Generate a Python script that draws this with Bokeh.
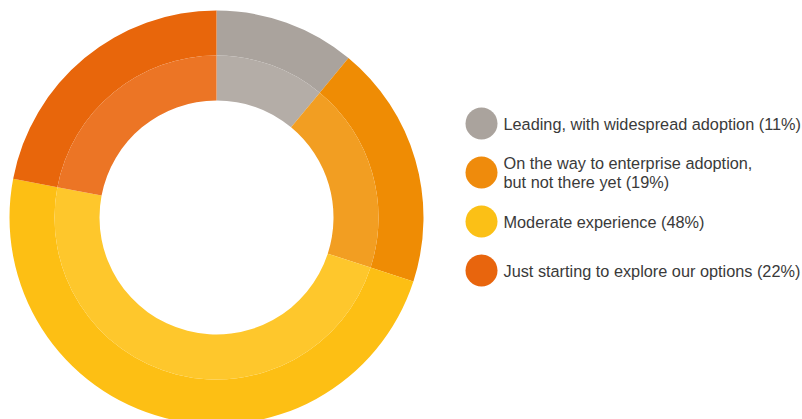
import math
from bokeh.plotting import figure
from bokeh.models import Range1d, ColumnDataSource
from bokeh.embed import file_html
from bokeh.resources import INLINE
from bokeh.core.properties import value

# ---- data ----
categories = [
    "Leading, with widespread adoption",
    "On the way to enterprise adoption,\nbut not there yet",
    "Moderate experience",
    "Just starting to explore our options",
]
shares = [11, 19, 48, 22]

# ---- styles ----
outer_colors = ["#aaa39d", "#ef8c04", "#fdbf14", "#e8660b"]
inner_colors = ["#b4ada7", "#f29e22", "#fec72c", "#ec7525"]
legend_colors = ["#aaa39d", "#ef8b0c", "#fbc016", "#e8650d"]

W, H = 802, 419
cx, cy = 216, H - 217
R_out, R_mid, R_in = 207, 162, 117

total = float(sum(shares))
starts, ends = [], []
cum = 0.0
for s in shares:
    a0 = math.pi / 2 - 2 * math.pi * cum / total
    cum += s
    a1 = math.pi / 2 - 2 * math.pi * cum / total
    starts.append(a1)
    ends.append(a0)

src = ColumnDataSource(dict(
    start=starts, end=ends, outer=outer_colors, inner=inner_colors,
    x=[cx] * len(shares), y=[cy] * len(shares),
))

p = figure(width=W, height=H, x_range=Range1d(0, W), y_range=Range1d(0, H),
           output_backend="svg", toolbar_location=None, min_border=0)
p.axis.visible = False
p.grid.visible = False
p.outline_line_color = None
p.background_fill_color = "white"
p.border_fill_color = "white"

p.annular_wedge(x="x", y="y", inner_radius=R_mid, outer_radius=R_out,
                start_angle="start", end_angle="end", fill_color="outer",
                line_color=None, source=src)
p.annular_wedge(x="x", y="y", inner_radius=R_in, outer_radius=R_mid,
                start_angle="start", end_angle="end", fill_color="inner",
                line_color=None, source=src)

# legend
lx, ly0, dy = 481, 123, 49
leg_y = [H - (ly0 + i * dy) for i in range(len(categories))]
leg_text = [f"{c} ({s}%)" for c, s in zip(categories, shares)]
leg_src = ColumnDataSource(dict(x=[lx] * len(categories), y=leg_y,
                                color=legend_colors, text=leg_text,
                                tx=[lx + 22] * len(categories)))
p.scatter(x="x", y="y", size=32, marker="circle", fill_color="color",
          line_color=None, source=leg_src)
p.text(x="tx", y="y", text="text", source=leg_src,
       text_font=value("Liberation Sans"), text_font_size="16.3px",
       text_color="#3a3a3a", text_baseline="middle", text_align="left",
       text_line_height=1.1)

open("out.html", "w").write(file_html(p, INLINE))
